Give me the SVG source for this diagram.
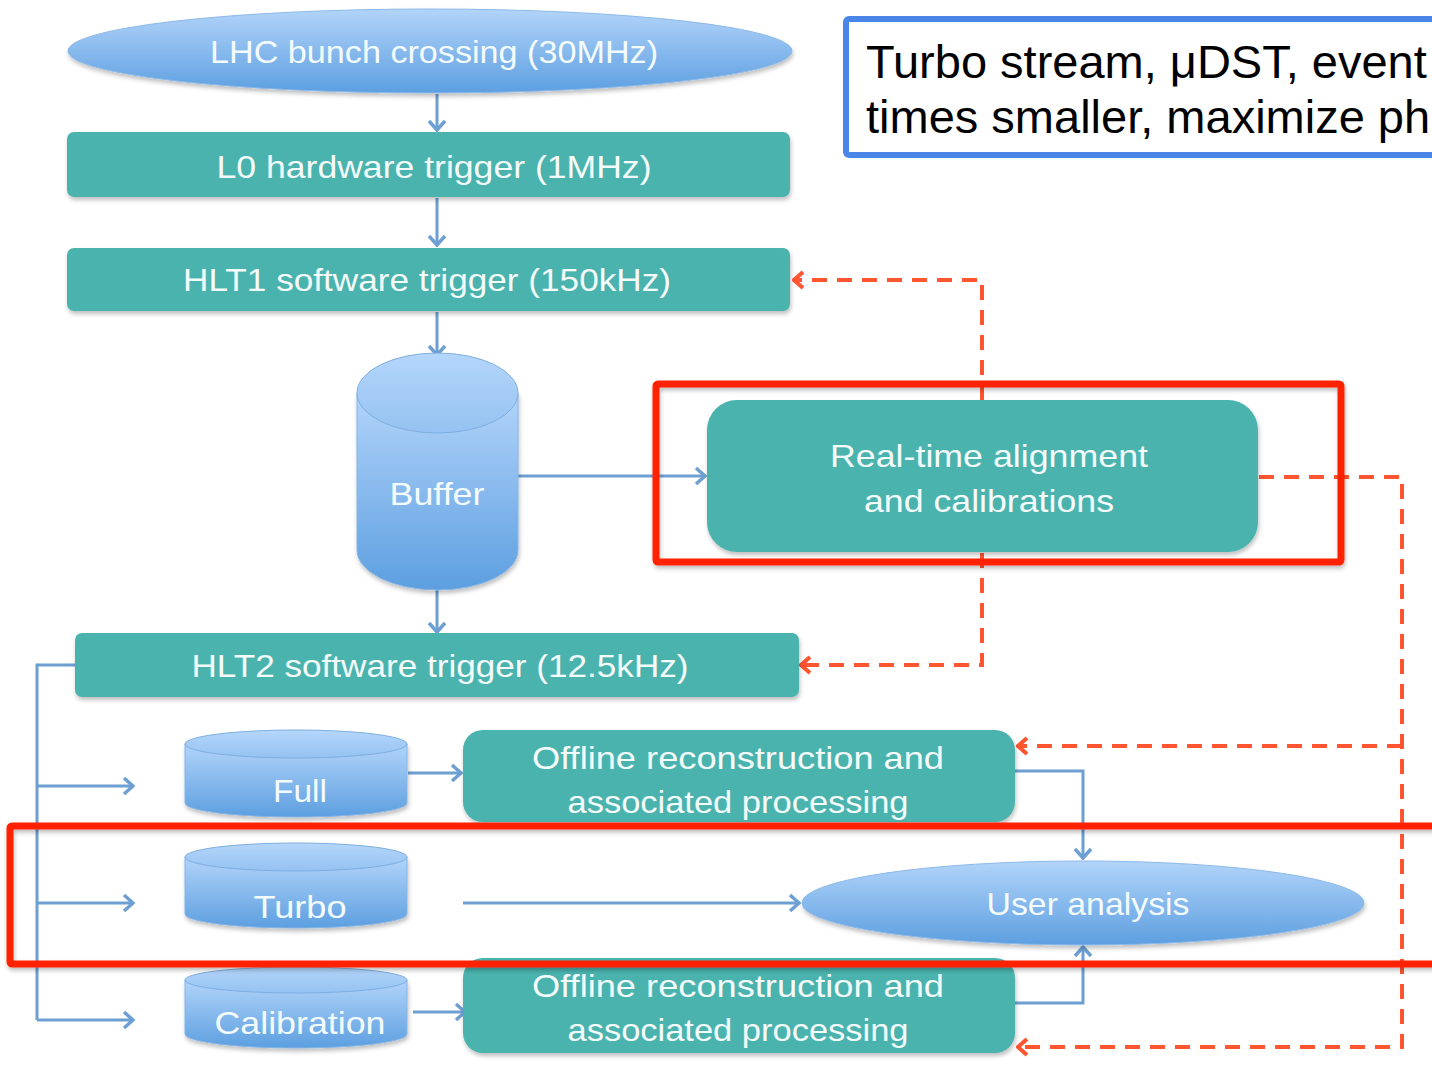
<svg xmlns="http://www.w3.org/2000/svg" width="1432" height="1081" viewBox="0 0 1432 1081">
<defs>
<linearGradient id="gBlue" x1="0" y1="0" x2="0" y2="1">
<stop offset="0" stop-color="#b2d4fa"/>
<stop offset="1" stop-color="#5d9fe0"/>
</linearGradient>
<linearGradient id="gTop" x1="0" y1="0" x2="0" y2="1">
<stop offset="0" stop-color="#b4d6fb"/>
<stop offset="1" stop-color="#95c2f1"/>
</linearGradient>
<filter id="sh" x="-10%" y="-10%" width="120%" height="130%">
<feDropShadow dx="1" dy="3" stdDeviation="2" flood-color="#000" flood-opacity="0.25"/>
</filter>
<marker id="ab" markerWidth="14" markerHeight="20" refX="12" refY="10" orient="auto" markerUnits="userSpaceOnUse">
<path d="M3,2 L12,10 L3,18" fill="none" stroke="#6d9fd3" stroke-width="3.5"/>
</marker>
<marker id="ar" markerWidth="14" markerHeight="20" refX="12" refY="10" orient="auto" markerUnits="userSpaceOnUse">
<path d="M3,2 L12,10 L3,18" fill="none" stroke="#ff5530" stroke-width="4"/>
</marker>
<style>
.teal{fill:#4bb3ae;filter:url(#sh)}
.ell{fill:url(#gBlue);stroke:#8cb9e8;stroke-width:1;filter:url(#sh)}
.cyl{fill:url(#gBlue);stroke:#86b4e4;stroke-width:1}
.cyltop{fill:url(#gTop);stroke:#7eaee0;stroke-width:1}
.lbl{font-family:"Liberation Sans","DejaVu Sans",sans-serif;font-size:32px;fill:#f4fbfb;text-anchor:middle}
.bl{fill:none;stroke:#6d9fd3;stroke-width:3}
.rd{fill:none;stroke:#ff5530;stroke-width:4;stroke-dasharray:15 10}
.hl{fill:none;stroke:#ff2400;stroke-width:7;filter:url(#sh)}
.note{font-family:"Liberation Sans",Arial,sans-serif;font-size:47px;fill:#000}
</style>
</defs>
<rect width="1432" height="1081" fill="#ffffff"/>

<g id="connectors">
<line class="bl" x1="437" y1="94" x2="437" y2="130" marker-end="url(#ab)"/>
<line class="bl" x1="437" y1="198" x2="437" y2="245" marker-end="url(#ab)"/>
<line class="bl" x1="437" y1="312" x2="437" y2="355" marker-end="url(#ab)"/>
<line class="bl" x1="518" y1="476" x2="705" y2="476" marker-end="url(#ab)"/>
<line class="bl" x1="437" y1="590" x2="437" y2="632" marker-end="url(#ab)"/>
<polyline class="bl" points="76,665 37,665 37,1020"/>
<line class="bl" x1="37" y1="786" x2="133" y2="786" marker-end="url(#ab)"/>
<line class="bl" x1="37" y1="903" x2="133" y2="903" marker-end="url(#ab)"/>
<line class="bl" x1="37" y1="1020" x2="133" y2="1020" marker-end="url(#ab)"/>
<line class="bl" x1="408" y1="773" x2="461" y2="773" marker-end="url(#ab)"/>
<line class="bl" x1="463" y1="903" x2="799" y2="903" marker-end="url(#ab)"/>
<line class="bl" x1="413" y1="1012" x2="465" y2="1012" marker-end="url(#ab)"/>
<polyline class="bl" points="1015,771 1083,771 1083,858" marker-end="url(#ab)"/>
<polyline class="bl" points="1015,1003 1083,1003 1083,947" marker-end="url(#ab)"/>
<polyline class="rd" points="982,400 982,280 794,280" marker-end="url(#ar)"/>
<polyline class="rd" points="982,553 982,665 801,665" marker-end="url(#ar)"/>
<polyline class="rd" points="1259,477 1402,477 1402,1047 1018,1047" marker-end="url(#ar)"/>
<polyline class="rd" points="1402,746 1018,746" marker-end="url(#ar)"/>
</g>

<g id="lhc">
<ellipse class="ell" cx="430" cy="51" rx="362" ry="42"/>
<text class="lbl" x="434" y="63" textLength="448" lengthAdjust="spacingAndGlyphs">LHC bunch crossing (30MHz)</text>
</g>
<g id="l0">
<rect class="teal" x="67" y="132" width="723" height="65" rx="7"/>
<text class="lbl" x="434" y="178" textLength="435" lengthAdjust="spacingAndGlyphs">L0 hardware trigger (1MHz)</text>
</g>
<g id="hlt1">
<rect class="teal" x="67" y="248" width="723" height="63" rx="7"/>
<text class="lbl" x="427" y="291" textLength="488" lengthAdjust="spacingAndGlyphs">HLT1 software trigger (150kHz)</text>
</g>
<g id="buffer">
<path class="cyl" d="M357,393 L357,550 A80.5,40 0 0 0 518,550 L518,393 Z" filter="url(#sh)"/>
<ellipse class="cyltop" cx="437.5" cy="393" rx="80.5" ry="40"/>
<text class="lbl" x="437" y="505" textLength="95" lengthAdjust="spacingAndGlyphs">Buffer</text>
</g>
<g id="realtime">
<rect class="teal" x="707" y="400" width="551" height="152" rx="30"/>
<text class="lbl" x="989" y="467" textLength="318" lengthAdjust="spacingAndGlyphs">Real-time alignment</text>
<text class="lbl" x="989" y="512" textLength="250" lengthAdjust="spacingAndGlyphs">and calibrations</text>
</g>
<g id="hlt2">
<rect class="teal" x="75" y="633" width="724" height="64" rx="7"/>
<text class="lbl" x="440" y="677" textLength="497" lengthAdjust="spacingAndGlyphs">HLT2 software trigger (12.5kHz)</text>
</g>
<g id="full">
<path class="cyl" d="M185,744 L185,803 A111,14 0 0 0 407,803 L407,744 Z" filter="url(#sh)"/>
<ellipse class="cyltop" cx="296" cy="744" rx="111" ry="14"/>
<text class="lbl" x="300" y="802" textLength="54" lengthAdjust="spacingAndGlyphs">Full</text>
</g>
<g id="turbo">
<path class="cyl" d="M185,857 L185,914 A111,14 0 0 0 407,914 L407,857 Z" filter="url(#sh)"/>
<ellipse class="cyltop" cx="296" cy="857" rx="111" ry="14"/>
<text class="lbl" x="300" y="918" textLength="93" lengthAdjust="spacingAndGlyphs">Turbo</text>
</g>
<g id="calibration">
<path class="cyl" d="M185,980 L185,1034 A111,14 0 0 0 407,1034 L407,980 Z" filter="url(#sh)"/>
<ellipse class="cyltop" cx="296" cy="980" rx="111" ry="13"/>
<text class="lbl" x="300" y="1034" textLength="171" lengthAdjust="spacingAndGlyphs">Calibration</text>
</g>
<g id="offline1">
<rect class="teal" x="463" y="730" width="552" height="92" rx="20"/>
<text class="lbl" x="738" y="769" textLength="412" lengthAdjust="spacingAndGlyphs">Offline reconstruction and</text>
<text class="lbl" x="738" y="813" textLength="341" lengthAdjust="spacingAndGlyphs">associated processing</text>
</g>
<g id="offline2">
<rect class="teal" x="463" y="958" width="552" height="95" rx="20"/>
<text class="lbl" x="738" y="997" textLength="412" lengthAdjust="spacingAndGlyphs">Offline reconstruction and</text>
<text class="lbl" x="738" y="1041" textLength="341" lengthAdjust="spacingAndGlyphs">associated processing</text>
</g>
<g id="user">
<ellipse class="ell" cx="1083" cy="903" rx="281" ry="42"/>
<text class="lbl" x="1088" y="915" textLength="203" lengthAdjust="spacingAndGlyphs">User analysis</text>
</g>

<g id="highlight1"><rect class="hl" x="656" y="384" width="685" height="178" rx="2"/></g>
<g id="highlight2"><rect class="hl" x="10" y="826" width="1440" height="138" rx="2"/></g>

<g id="note">
<rect x="846" y="19" width="600" height="136" rx="3" fill="#ffffff" stroke="#4a86e8" stroke-width="6"/>
<text class="note" x="866" y="78">Turbo stream, μDST, event</text>
<text class="note" x="866" y="133">times smaller, maximize ph</text>
</g>
</svg>
